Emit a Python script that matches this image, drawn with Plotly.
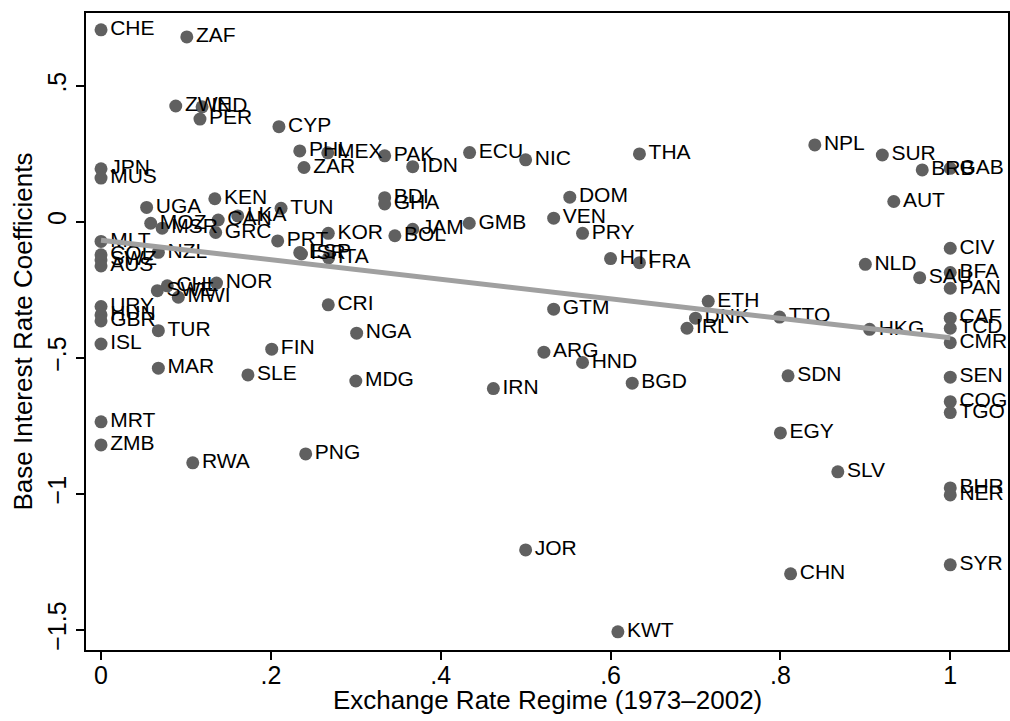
import numpy as np
import plotly.graph_objects as go

countries = ["CHE","ZAF","ZWE","IND","PER","CYP","PHL","MEX","ZAR","PAK","IDN","ECU","NIC","THA",
             "NPL","SUR","BRB","GAB","JPN","MUS","KEN","UGA","TUN","BDI","GHA","DOM","AUT",
             "CAN","LKA","MOZ","MSR","GRC","PRT","KOR","BOL","JAM","GMB","VEN","PRY",
             "MLT","NZL","COL","SWZ","AUS","ESP","ISR","ITA","HTI","FRA","CIV","NLD","SAU",
             "BFA","PAN","CHL","SWE","MWI","NOR","CRI","URY","HUN","GBR","TUR","ISL","NGA",
             "FIN","GTM","ETH","DNK","IRL","TTO","HKG","CAF","TCD","CMR","MAR","SLE","MDG",
             "ARG","HND","IRN","BGD","SDN","SEN","COG","TGO","MRT","ZMB","RWA","PNG","EGY",
             "SLV","BHR","NER","JOR","CHN","SYR","KWT"]

regime = [0.0,0.101,0.088,0.119,0.1165,0.2095,0.234,0.267,0.239,0.334,0.367,0.434,0.500,0.634,
          0.8405,0.920,0.967,1.0,0.0,0.0,0.134,0.0537,0.212,0.334,0.334,0.552,0.9335,
          0.138,0.161,0.0585,0.072,0.135,0.208,0.2676,0.346,0.367,0.4336,0.533,0.567,
          0.0,0.0675,0.0,0.0,0.0,0.234,0.236,0.268,0.600,0.634,1.0,0.900,0.964,
          1.0,1.0,0.078,0.0663,0.091,0.136,0.2676,0.0,0.0,0.0,0.0675,0.0,0.301,
          0.201,0.533,0.715,0.700,0.690,0.799,0.905,1.0,1.0,1.0,0.0675,0.173,0.300,
          0.5215,0.567,0.462,0.6255,0.809,1.0,1.0,1.0,0.0,0.0,0.108,0.241,0.800,
          0.8676,1.0,1.0,0.500,0.812,1.0,0.6086]

coef = [0.706,0.680,0.426,0.423,0.378,0.350,0.261,0.254,0.200,0.243,0.203,0.255,0.228,0.250,
        0.283,0.246,0.191,0.197,0.195,0.161,0.085,0.053,0.050,0.089,0.066,0.091,0.075,
        0.007,0.022,-0.005,-0.023,-0.039,-0.070,-0.042,-0.051,-0.027,-0.005,0.0135,-0.042,
        -0.072,-0.112,-0.121,-0.140,-0.162,-0.113,-0.118,-0.132,-0.135,-0.150,-0.097,-0.156,-0.205,
        -0.186,-0.244,-0.235,-0.253,-0.277,-0.225,-0.305,-0.311,-0.342,-0.364,-0.400,-0.449,-0.409,
        -0.468,-0.321,-0.292,-0.354,-0.391,-0.350,-0.395,-0.354,-0.391,-0.444,-0.538,-0.5625,-0.585,
        -0.479,-0.517,-0.613,-0.593,-0.566,-0.571,-0.661,-0.701,-0.735,-0.820,-0.886,-0.853,-0.776,
        -0.919,-0.978,-1.004,-1.206,-1.294,-1.261,-1.507]

x_ticks = [0, 0.2, 0.4, 0.6, 0.8, 1]
x_ticklabels = ["0", ".2", ".4", ".6", ".8", "1"]
y_ticks = [-1.5, -1, -0.5, 0, 0.5]
y_ticklabels = ["\u22121.5", "\u22121", "\u2212.5", "0", ".5"]

x_title = "Exchange Rate Regime (1973\u20132002)"
y_title = "Base Interest Rate Coefficients"

# linear fit
slope, intercept = np.polyfit(regime, coef, 1)
fit_x = [0.0, 1.0]
fit_y = [intercept + slope * v for v in fit_x]

FONT = "Liberation Sans, Arial, Helvetica, sans-serif"

fig = go.Figure()
fig.add_trace(go.Scatter(
    x=regime, y=coef, text=countries, mode="markers+text",
    textposition="middle right",
    marker=dict(size=13, color="#606060", line=dict(width=0)),
    textfont=dict(family=FONT, size=21, color="black"),
    cliponaxis=False, hoverinfo="text", showlegend=False,
))
fig.add_trace(go.Scatter(
    x=fit_x, y=fit_y, mode="lines",
    line=dict(color="#a0a0a0", width=5),
    showlegend=False, hoverinfo="skip",
))

axis_common = dict(
    showline=True, linecolor="black", linewidth=1.5, mirror=True,
    ticks="outside", ticklen=8, tickwidth=1.5, tickcolor="black",
    showgrid=False, zeroline=False, automargin=False,
    tickfont=dict(family=FONT, size=25, color="black"),
)

fig.update_layout(
    width=1010, height=721,
    margin=dict(l=86, r=2, t=13, b=71),
    paper_bgcolor="white", plot_bgcolor="white",
    xaxis=dict(range=[-0.0177, 1.068], tickvals=x_ticks, ticktext=x_ticklabels,
               ticklabelstandoff=-6, **axis_common),
    yaxis=dict(range=[-1.574, 0.768], tickvals=y_ticks, ticktext=y_ticklabels,
               tickangle=-90, **axis_common),
    annotations=[
        dict(text=x_title, xref="paper", yref="paper", x=0.5, y=-0.079,
             xanchor="center", yanchor="middle", showarrow=False,
             font=dict(family=FONT, size=26, color="black")),
        dict(text=y_title, xref="paper", yref="paper", x=-0.0694, y=0.5,
             xanchor="center", yanchor="middle", textangle=-90, showarrow=False,
             font=dict(family=FONT, size=26, color="black")),
    ],
)

fig.write_html("out.html", config={"displayModeBar": False},
               post_script="document.body.style.margin='0';document.body.style.overflow='hidden';")
